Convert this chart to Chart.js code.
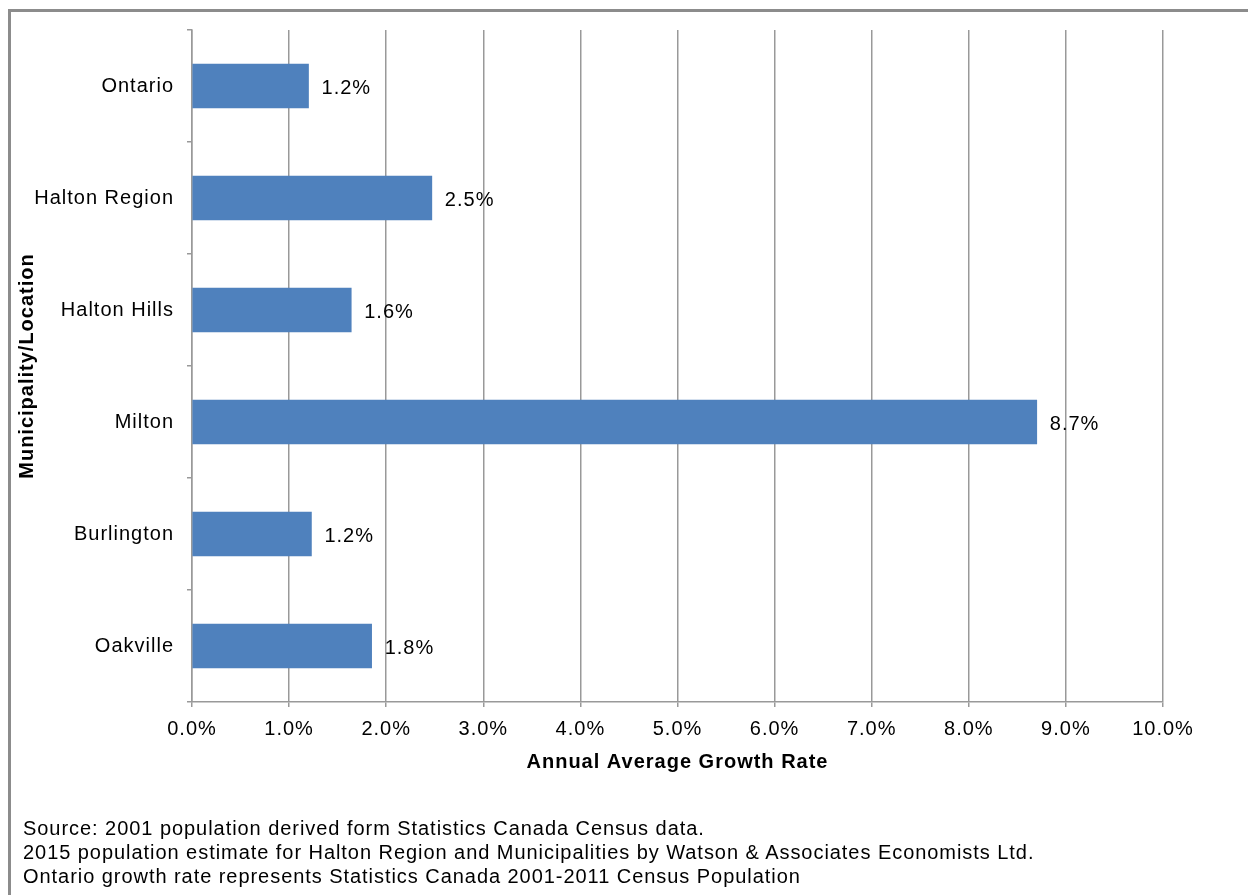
<!DOCTYPE html>
<html>
<head>
<meta charset="utf-8">
<script src="https://cdn.jsdelivr.net/npm/chart.js@4/dist/chart.umd.min.js"></script>
<style>
  html, body { margin: 0; padding: 0; background: #fff; overflow: hidden; }
  #wrap { position: relative; width: 1248px; height: 895px; }
  #frame { position: absolute; left: 8px; top: 9px; width: 1260px; height: 920px; border: 3px solid #8c8c8c; box-sizing: border-box; }
  #chartBox { position: absolute; left: 0; top: 0; width: 1248px; height: 895px; }
  #notes { position: absolute; left: 23px; top: 816px; font-family: "Liberation Sans", Arial, sans-serif; font-size: 20px; letter-spacing: 0.95px; line-height: 24px; color: #000; white-space: nowrap; }
</style>
</head>
<body>
<div id="wrap">
  <div id="frame"></div>
  <div id="chartBox"><canvas id="myChart"></canvas></div>
  <div id="notes">
    Source: 2001 population derived form Statistics Canada Census data.<br>
    2015 population estimate for Halton Region and Municipalities by Watson &amp; Associates Economists Ltd.<br>
    Ontario growth rate represents Statistics Canada 2001-2011 Census Population
  </div>
</div>
<script>
// growth rate by municipality (%)
var places = ["Ontario", "Halton Region", "Halton Hills", "Milton", "Burlington", "Oakville"];
var growth = [1.2, 2.47, 1.64, 8.7, 1.23, 1.85];
var growthLabels = ["1.2%", "2.5%", "1.6%", "8.7%", "1.2%", "1.8%"];

var font = "'Liberation Sans', Arial, sans-serif";

// text in the original is a little wider than plain Arial
var spacing = {
    id: "spacing",
    beforeLayout: function (chart) { chart.ctx.letterSpacing = "1px"; },
    beforeDraw: function (chart) { chart.ctx.letterSpacing = "1px"; }
};

// writes the % next to the end of each bar
var barLabels = {
    id: "barLabels",
    afterDatasetsDraw: function (chart) {
        var ctx = chart.ctx;
        var meta = chart.getDatasetMeta(0);
        ctx.save();
        ctx.font = "20px " + font;
        ctx.fillStyle = "#000";
        ctx.textAlign = "left";
        ctx.textBaseline = "middle";
        meta.data.forEach(function (bar, i) {
            ctx.fillText(growthLabels[i], bar.x + 13, bar.y + 2);
        });
        ctx.restore();
    }
};

new Chart(document.getElementById("myChart"), {
    type: "bar",
    data: {
        labels: places,
        datasets: [{
            data: growth,
            backgroundColor: "#4f81bd",
            borderWidth: 0,
            barThickness: 44
        }]
    },
    options: {
        indexAxis: "y",
        responsive: true,
        maintainAspectRatio: false,
        animation: false,
        layout: { padding: { top: 30, right: 85, left: 15, bottom: 121 } },
        plugins: { legend: { display: false }, tooltip: { enabled: false } },
        scales: {
            x: {
                min: 0,
                max: 10,
                afterFit: function (scale) { scale.height = 72; },
                ticks: {
                    stepSize: 1,
                    padding: 10,
                    color: "#000",
                    font: { family: font, size: 20 },
                    callback: function (v) { return v.toFixed(1) + "%"; }
                },
                grid: { color: "#999", lineWidth: 1.5, tickLength: 5 },
                border: { color: "#999", width: 1.5 },
                title: {
                    display: true,
                    text: "Annual Average Growth Rate",
                    color: "#000",
                    font: { family: font, size: 20, weight: "bold" },
                    padding: 0
                }
            },
            y: {
                afterFit: function (scale) { scale.width = 177; },
                ticks: {
                    padding: 13,
                    color: "#000",
                    font: { family: font, size: 20 }
                },
                grid: { drawOnChartArea: false, color: "#999", lineWidth: 1.5, tickLength: 5 },
                border: { color: "#999", width: 1.5 },
                title: {
                    display: true,
                    text: "Municipality/Location",
                    color: "#000",
                    font: { family: font, size: 20, weight: "bold" },
                    padding: 0
                }
            }
        }
    },
    plugins: [spacing, barLabels]
});
</script>
</body>
</html>
